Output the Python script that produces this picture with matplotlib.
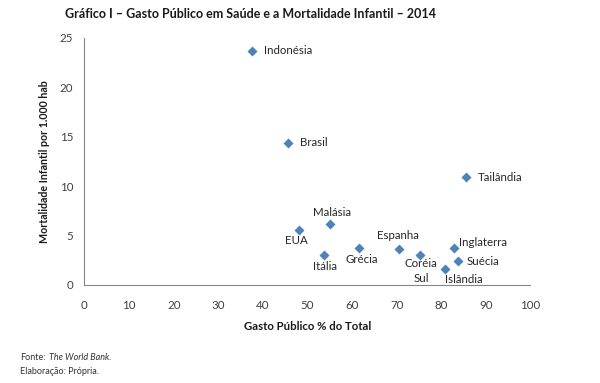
import matplotlib
matplotlib.use("Agg")
import matplotlib.pyplot as plt

countries = ["Indonésia", "Brasil", "Tailândia", "EUA", "Malásia", "Itália", "Grécia",
             "Espanha", "Coréia\nSul", "Inglaterra", "Suécia", "Islândia"]
gasto_publico = [37.5, 45.7, 85.5, 48.0, 55.0, 53.8, 61.5, 70.6, 75.3, 82.8, 83.7, 80.8]
mortalidade = [23.7, 14.4, 10.9, 5.6, 6.2, 3.0, 3.7, 3.6, 3.0, 3.7, 2.4, 1.6]

# label placement (offset pixels, horizontal alignment)
label_offsets = {
    "Indonésia": (12, 0, "left"),
    "Brasil": (12, 0, "left"),
    "Tailândia": (12, 0, "left"),
    "EUA": (-2, -11, "center"),
    "Malásia": (2, 11, "center"),
    "Itália": (1, -11, "center"),
    "Grécia": (3, -11, "center"),
    "Espanha": (-1, 14, "center"),
    "Coréia\nSul": (1, -16, "center"),
    "Inglaterra": (5, 6, "left"),
    "Suécia": (9, 0, "left"),
    "Islândia": (19, -10, "center"),
}

plt.rcParams['font.family'] = ['Lato', 'DejaVu Sans']
fig = plt.figure(figsize=(6.0, 3.83), dpi=100)
ax = fig.add_axes([0.1408, 0.2559, 0.7433, 0.6457])

ax.scatter(gasto_publico, mortalidade, marker="D", s=26, color="#4F81BD", zorder=3, linewidths=0)
for name, x, y in zip(countries, gasto_publico, mortalidade):
    dx, dy, ha = label_offsets[name]
    ax.annotate(name, (x, y), xytext=(dx, dy), textcoords="offset pixels",
                ha=ha, va="center", fontsize=8.3, color="#262626", linespacing=1.45)

ax.set_xlim(0, 100)
ax.set_ylim(0, 25)
ax.set_xticks(range(0, 101, 10))
ax.set_yticks(range(0, 26, 5))
for s in ["top", "right"]:
    ax.spines[s].set_visible(False)
for s in ["left", "bottom"]:
    ax.spines[s].set_color("#868686")
    ax.spines[s].set_linewidth(0.8)
ax.tick_params(length=0, labelsize=8.3, colors="#404040")
ax.tick_params(axis="x", pad=10.5)
ax.tick_params(axis="y", pad=8)

fig.text(0.418, 0.963, "Gráfico I – Gasto Público em Saúde e a Mortalidade Infantil – 2014",
         ha="center", va="center", fontsize=9, fontweight="bold", color="#1a1a1a")
fig.text(0.512, 1 - 327 / 383, "Gasto Público % do Total", ha="center", va="center",
         fontsize=8.2, fontweight="bold", color="#1a1a1a")
fig.text(0.075, 1 - 162 / 383, "Mortalidade Infantil por 1.000 hab", ha="center", va="center",
         rotation=90, fontsize=7.7, fontweight="bold", color="#1a1a1a")

f1 = fig.text(20 / 600, 1 - 358 / 383, "Fonte:", ha="left", va="center", fontsize=6.5, color="#333333")
fig.canvas.draw()
bb = f1.get_window_extent(renderer=fig.canvas.get_renderer())
fig.text(bb.x1 / fig.bbox.width + 3 / 600, 1 - 358 / 383, "The World Bank.", ha="left", va="center",
         fontsize=6.5, style="italic", color="#333333")
fig.text(20 / 600, 1 - 371 / 383, "Elaboração: Própria.", ha="left", va="center", fontsize=6.5,
         color="#333333")

fig.savefig("out.png", dpi=100)
